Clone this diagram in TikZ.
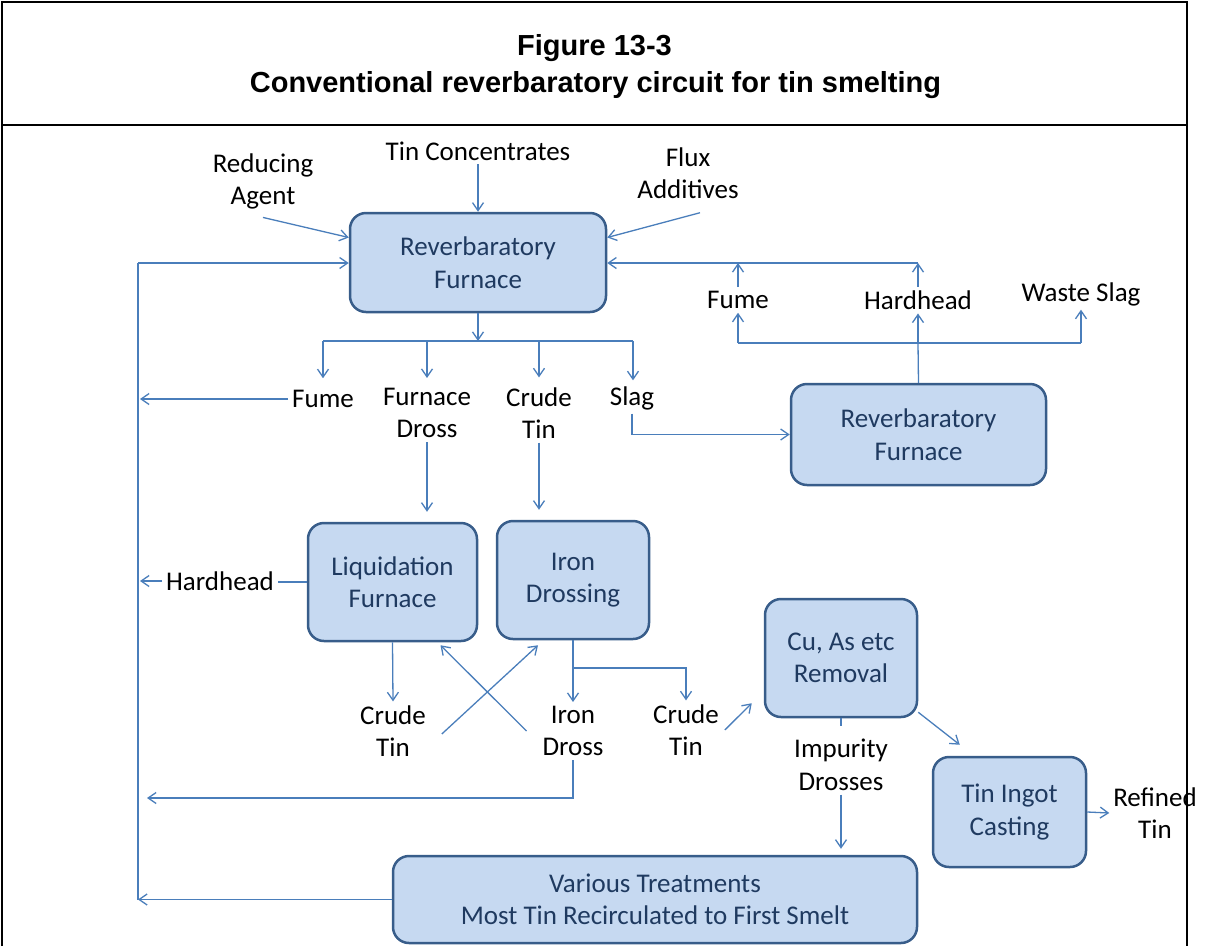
\documentclass[tikz,border=0pt]{standalone}
\usepackage{fontspec}
\setmainfont{Carlito}
\newfontfamily\titlefont{Liberation Sans}
\usetikzlibrary{arrows.meta}
\definecolor{linkblue}{HTML}{4A7EBB}
\definecolor{boxfill}{HTML}{C6D9F1}
\definecolor{boxline}{HTML}{385D8A}
\definecolor{boxtext}{HTML}{1F3A60}
\begin{document}
\begin{tikzpicture}[x=1pt,y=-1pt,
  box/.style={draw=boxline, line width=2.5pt, fill=boxfill, rounded corners=16pt, text=boxtext, align=center, font=\fontsize{27}{32.5}\selectfont, inner sep=0pt},
  lbl/.style={align=center, font=\fontsize{27}{32.5}\selectfont, inner sep=1pt, outer sep=3pt},
  ttl/.style={font=\titlefont\bfseries\fontsize{29}{35}\selectfont},
  link/.style={draw=linkblue, line width=1.3pt},
  arr/.style={link, -{Straight Barb[length=8pt,width=11pt]}},
]
\useasboundingbox (0,0) rectangle (1211,946);
% frame
\draw[line width=2.5pt] (2,946) -- (2,2) -- (1187,2) -- (1187,946);
\draw[line width=2pt] (2,125) -- (1187,125);
\node[ttl] (t1) at (594.5,48.5) {Figure 13-3};
\node[ttl] (t2) at (595.5,85) {Conventional reverbaratory circuit for tin smelting};

% boxes
\node[box, minimum width=256pt, minimum height=99pt] (rf1) at (478,262.5) {Reverbaratory\\Furnace};
\node[box, minimum width=255pt, minimum height=101pt] (rf2) at (918.5,434.5) {Reverbaratory\\Furnace};
\node[box, minimum width=169pt, minimum height=118pt] (liq) at (392.5,582) {Liquidation\\Furnace};
\node[box, minimum width=152pt, minimum height=118pt] (iron) at (573,580) {Iron\\Drossing};
\node[box, minimum width=152pt, minimum height=118pt] (cu) at (841,658) {Cu, As etc\\Removal};
\node[box, minimum width=153pt, minimum height=110pt] (ingot) at (1009.5,812) {Tin Ingot\\Casting};
\node[box, minimum width=524pt, minimum height=87pt] (vt) at (655,899.5) {Various Treatments\\Most Tin Recirculated to First Smelt};

% labels
\node[lbl] (ra) at (263,181.5) {Reducing\\Agent};
\node[lbl] (tc) at (478,151) {Tin Concentrates};
\node[lbl] (fa) at (688,173) {Flux\\Additives};
\node[lbl] (fume1) at (323,399) {Fume};
\node[lbl] (fd) at (427,413) {Furnace\\Dross};
\node[lbl] (ct1) at (539,413) {Crude\\Tin};
\node[lbl] (slag) at (632,398) {Slag};
\node[lbl] (fume2) at (738,300) {Fume};
\node[lbl] (hh2) at (918,300) {Hardhead};
\node[lbl] (ws) at (1081,294) {Waste Slag};
\node[lbl] (hh1) at (220,581) {Hardhead};
\node[lbl] (ct2) at (393,731) {Crude\\Tin};
\node[lbl] (id) at (573,731) {Iron\\Dross};
\node[lbl] (ct3) at (686,730) {Crude\\Tin};
\node[lbl] (imp) at (841,765) {Impurity\\Drosses};
\node[lbl] (rt) at (1155,813) {Refined\\Tin};

% coordinates
\coordinate (lt) at (138,263);
\coordinate (lb) at (138,899.5);
\coordinate (b1) at (478,341);
\coordinate (b1l) at (323,341);
\coordinate (b1r) at (633,341);
\coordinate (b2) at (918,343);
\coordinate (b2l) at (738,343);
\coordinate (b2r) at (1081,343);
\coordinate (t2r) at (918,263);
\coordinate (idr) at (573,798);
\coordinate (ib) at (573,668);

% inputs
\draw[arr] ([xshift=0pt,yshift=-4pt]ra.south) -- ([yshift=25pt]rf1.west);
\draw[arr] (tc.south) -- (rf1.north);
\draw[arr] ([xshift=12pt,yshift=-10pt]fa.south) -- ([yshift=25pt]rf1.east);

% recycle line on left
\draw[link] (lb) -- (lt);
\draw[arr] (lt) -- (lt -| rf1.west);
\draw[arr] (vt.west) -- (lb);
\draw[arr, shorten >=2pt] (fume1.west) -- (fume1.west -| lb);
\draw[arr, shorten >=2pt] (hh1.west) -- (hh1.west -| lb);
\draw[link] (liq.west) -- (liq.west -| hh1.east);
\draw[arr, shorten >=9pt] (id.south) -- (idr) -- (idr -| lb);

% first furnace outputs
\draw[arr] (rf1.south) -- (b1);
\draw[link] (b1l) -- (b1r);
\draw[arr, shorten >=8pt] (b1l) -- (fume1.north);
\draw[arr, shorten >=6pt] (fd.north |- b1) -- (fd.north);
\draw[arr, shorten >=6pt] (ct1.north |- b1) -- (ct1.north);
\draw[arr, shorten >=2pt] (b1r) -- (b1r |- slag.north);
\draw[arr] (slag.south) |- (rf2.west);

% second furnace
\draw[link] (rf2.north) -- (b2);
\draw[link] (b2l) -- (b2r);
\draw[arr] (b2l) -- (fume2.south);
\draw[arr] (b2) -- (hh2.south);
\draw[arr] (b2r) -- (ws.south);
\draw[arr] (fume2.north) -- (fume2.north |- t2r);
\draw[arr] (hh2.north) -- (t2r);
\draw[arr] (t2r) -- (t2r -| rf1.east);

% liquidation / drossing
\draw[arr, shorten >=10pt] (fd.south) -- (fd.south |- liq.north);
\draw[arr, shorten >=10pt] (ct1.south) -- (ct1.south |- iron.north);
\draw[arr] (liq.south) -- (ct2.north);
\draw[arr] (iron.south) -- (id.north);
\draw[arr] (ib) -| (ct3.north);
\draw[arr] ([xshift=12pt,yshift=-3pt]ct2.east) -- ([xshift=-35pt,yshift=-5pt]iron.south);
\draw[arr] ([xshift=-12pt]id.west) -- ([xshift=48pt,yshift=-3pt]liq.south);

% refining
\draw[arr] ([xshift=2pt]ct3.east) -- ([xshift=-12pt,yshift=15pt]cu.south west);
\draw[link] (cu.south) -- ++(0,8);
\draw[arr, shorten >=6pt] (imp.south) -- (imp.south |- vt.north);
\draw[arr] ([yshift=6pt]cu.south east) -- ([xshift=28pt,yshift=11pt]ingot.north west);
\draw[arr] (ingot.east) -- (rt.west);
\end{tikzpicture}
\end{document}
